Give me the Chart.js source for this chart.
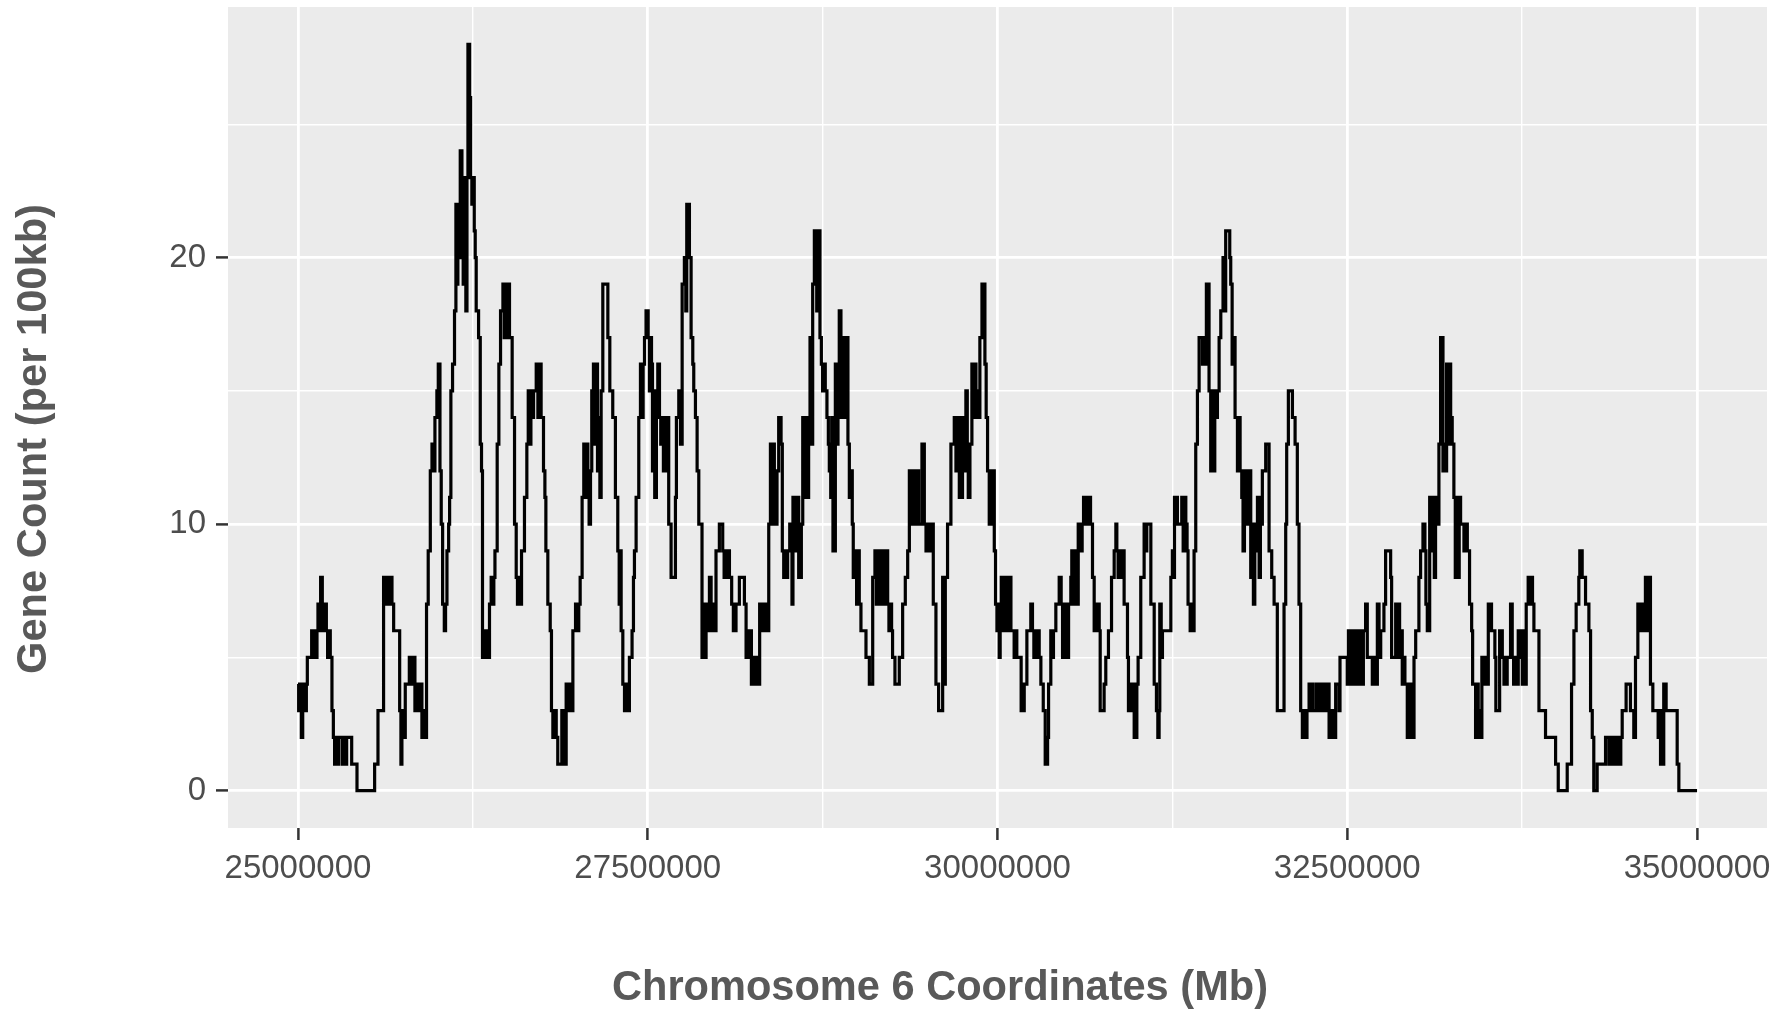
<!DOCTYPE html>
<html>
<head>
<meta charset="utf-8">
<script src="https://cdn.jsdelivr.net/npm/chart.js"></script>
<style>
  body { margin: 0; background: #ffffff; }
  canvas { display: block; }
</style>
</head>
<body>
<canvas id="geneChart" width="1788" height="1013"></canvas>
<script>
// Window start positions along chromosome 6 (kb) and gene count per 100kb window
const positionsKb = [
    25000,25005,25015,25024,25034,25043,25053,25060,25067,25098,25107,25117,
    25127,25136,25143,25153,25162,25174,25184,25193,25203,25212,25222,25231,
    25243,25253,25262,25272,25281,25291,25317,25324,25341,25348,25384,25422,
    25548,25572,25612,25624,25634,25646,25655,25672,25684,25727,25736,25743,
    25753,25767,25796,25805,25815,25836,25848,25865,25879,25886,25898,25908,
    25919,25931,25946,25958,25967,25979,25993,26003,26015,26024,26034,26046,
    26055,26065,26077,26084,26093,26105,26119,26129,26136,26143,26153,26160,
    26172,26181,26191,26200,26208,26215,26227,26234,26243,26250,26260,26267,
    26274,26291,26303,26312,26319,26329,26338,26348,26358,26369,26381,26391,
    26400,26408,26424,26436,26448,26465,26474,26484,26496,26503,26512,26531,
    26548,26560,26569,26579,26588,26598,26619,26636,26646,26655,26665,26674,
    26684,26703,26715,26724,26738,26755,26765,26772,26786,26803,26812,26822,
    26834,26846,26857,26886,26898,26917,26929,26941,26953,26965,26984,26996,
    27007,27017,27031,27043,27053,27062,27072,27081,27091,27100,27112,27122,
    27131,27141,27148,27158,27167,27179,27215,27229,27250,27269,27286,27296,
    27305,27310,27322,27334,27350,27360,27369,27388,27398,27405,27417,27436,
    27448,27457,27467,27477,27488,27503,27512,27522,27527,27534,27543,27550,
    27562,27572,27584,27593,27603,27612,27622,27631,27641,27650,27667,27698,
    27705,27722,27734,27746,27762,27772,27779,27798,27810,27822,27829,27841,
    27853,27865,27888,27898,27908,27917,27927,27936,27941,27953,27965,27977,
    27988,28012,28036,28046,28055,28065,28074,28084,28100,28112,28131,28155,
    28191,28203,28212,28222,28231,28241,28262,28272,28281,28291,28300,28312,
    28322,28331,28341,28350,28365,28377,28386,28396,28405,28415,28424,28436,
    28453,28462,28472,28481,28491,28500,28515,28531,28538,28560,28569,28579,
    28598,28608,28619,28631,28643,28650,28660,28669,28679,28691,28708,28717,
    28731,28741,28750,28760,28769,28781,28791,28798,28808,28815,28824,28841,
    28850,28860,28869,28881,28891,28900,28912,28922,28931,28941,28953,28962,
    28969,28984,28993,29003,29012,29024,29060,29084,29108,29124,29134,29143,
    29153,29167,29177,29186,29196,29205,29215,29224,29234,29243,29250,29267,
    29298,29322,29341,29358,29370,29393,29403,29412,29422,29436,29460,29477,
    29489,29500,29512,29524,29541,29560,29579,29608,29617,29627,29643,29667,
    29691,29703,29715,29727,29750,29762,29774,29784,29791,29803,29817,29827,
    29836,29846,29858,29867,29874,29889,29910,29919,29929,29941,29950,29960,
    29969,29977,29986,29996,30005,30012,30019,30027,30036,30046,30055,30065,
    30074,30084,30096,30119,30129,30138,30169,30191,30210,30238,30250,30260,
    30269,30279,30288,30298,30310,30327,30341,30358,30365,30381,30391,30400,
    30417,30441,30455,30465,30477,30488,30508,30524,30531,30541,30550,30560,
    30577,30596,30605,30615,30627,30636,30646,30655,30665,30679,30691,30710,
    30727,30734,30762,30774,30793,30815,30834,30846,30853,30862,30872,30881,
    30891,30905,30929,30936,30946,30955,30965,30977,30996,31005,31024,31048,
    31058,31067,31096,31120,31136,31146,31155,31160,31170,31179,31239,31250,
    31260,31265,31286,31317,31327,31336,31346,31355,31362,31377,31386,31396,
    31405,31417,31429,31441,31465,31474,31484,31493,31512,31524,31534,31543,
    31553,31560,31572,31584,31596,31612,31622,31631,31660,31667,31677,31686,
    31698,31715,31724,31734,31746,31755,31765,31774,31784,31793,31805,31810,
    31820,31829,31839,31848,31858,31870,31879,31893,31917,31941,31960,31977,
    32000,32048,32060,32067,32079,32108,32127,32143,32155,32167,32179,32193,
    32203,32212,32227,32239,32246,32255,32279,32289,32298,32308,32317,32327,
    32336,32346,32355,32370,32379,32389,32398,32408,32417,32441,32448,32500,
    32508,32517,32527,32536,32546,32555,32565,32574,32584,32596,32605,32615,
    32631,32643,32679,32689,32698,32715,32727,32739,32762,32774,32810,32817,
    32846,32855,32865,32874,32881,32893,32903,32912,32929,32939,32948,32958,
    32967,32977,32989,33012,33024,33041,33055,33062,33072,33089,33100,33110,
    33122,33131,33143,33155,33167,33184,33193,33203,33210,33220,33229,33239,
    33250,33262,33272,33281,33291,33300,33310,33334,33346,33358,33374,33389,
    33396,33417,33427,33436,33446,33455,33462,33481,33491,33500,33508,33531,
    33555,33562,33589,33608,33620,33643,33667,33679,33689,33698,33708,33722,
    33731,33741,33751,33760,33770,33779,33793,33805,33815,33824,33834,33870,
    33917,33989,34008,34072,34103,34120,34136,34155,34162,34179,34203,34227,
    34239,34251,34262,34286,34346,34370,34379,34389,34398,34408,34417,34427,
    34436,34446,34455,34465,34493,34524,34548,34560,34577,34596,34605,34615,
    34631,34641,34650,34667,34684,34722,34731,34739,34748,34755,34762,34779,
    34858,34870,35000
];
const geneCounts = [
    4,3,4,2,3,4,3,4,5,6,5,6,
    5,6,7,6,8,7,6,7,6,5,6,5,
    3,2,1,2,1,2,1,2,1,2,1,0,
    1,3,8,7,8,7,8,7,6,3,1,3,
    2,4,5,4,5,3,4,3,4,2,3,2,
    7,9,12,13,12,14,15,16,12,10,7,6,
    7,9,10,11,15,16,18,22,19,22,20,24,
    22,19,23,18,23,28,26,23,22,23,21,20,
    18,17,13,12,5,6,5,6,5,7,8,7,
    8,9,13,16,18,19,17,19,17,19,17,14,
    10,8,7,8,7,9,11,13,15,13,15,14,
    15,16,14,16,14,12,11,9,7,6,3,2,
    3,2,1,3,1,4,3,4,3,6,7,6,
    7,8,11,13,11,13,12,10,12,15,16,13,
    16,12,14,11,15,19,17,15,14,11,9,7,
    9,6,4,3,4,3,5,6,8,9,11,14,
    16,14,16,17,18,17,15,17,16,12,15,11,
    15,16,14,13,14,12,14,12,14,10,8,11,
    14,15,13,19,20,18,22,20,17,16,15,14,
    12,10,5,7,5,7,6,7,8,6,7,6,
    9,10,9,8,9,8,9,8,7,6,7,8,
    7,5,6,5,6,4,5,4,5,4,7,6,
    7,6,7,6,10,13,10,13,12,10,12,14,
    13,9,8,9,8,9,10,7,11,9,11,8,
    10,14,11,14,11,14,17,13,19,21,18,21,
    17,16,15,16,15,14,13,12,11,14,9,16,
    13,16,18,14,17,15,14,17,13,11,12,10,
    8,9,7,9,7,6,5,4,8,9,7,9,
    7,9,7,9,7,9,7,6,7,6,5,4,
    5,7,8,9,12,10,12,10,12,10,13,10,
    9,10,9,10,7,4,3,8,4,8,10,13,
    14,12,14,11,14,12,15,12,11,13,16,14,
    16,14,15,14,17,19,16,14,12,10,12,10,
    12,9,7,6,7,5,6,8,6,8,6,8,
    6,8,6,5,6,5,3,4,6,7,6,5,
    6,5,6,5,4,3,1,2,4,6,5,6,
    7,8,7,5,7,5,7,8,9,7,9,7,
    10,9,10,11,10,11,10,11,10,8,6,7,
    6,3,4,5,6,8,9,10,9,8,9,8,
    9,7,5,3,4,3,4,2,4,5,8,10,
    9,10,7,4,3,2,3,7,5,6,8,9,
    8,11,10,11,9,11,10,9,7,6,7,6,
    9,13,15,17,16,17,16,19,15,12,15,12,
    15,14,15,17,18,20,18,21,20,19,16,17,
    14,12,14,12,11,9,12,10,12,10,12,8,
    10,7,9,10,11,8,10,12,13,9,8,7,
    3,7,10,13,15,14,13,10,7,3,2,3,
    2,3,4,3,4,3,4,3,4,3,4,3,
    4,3,4,2,3,2,3,2,4,3,5,4,
    6,4,6,4,6,4,6,4,5,6,4,6,
    7,5,4,5,4,7,5,6,7,9,8,5,
    7,5,7,5,6,4,5,4,2,4,2,4,
    2,5,6,8,9,10,9,7,6,11,9,11,
    8,11,10,13,17,12,13,12,16,13,16,14,
    13,11,8,11,8,11,10,9,10,9,7,6,
    4,2,4,2,3,2,5,4,5,4,7,6,
    5,3,6,5,4,5,7,5,4,5,4,6,
    5,6,4,6,4,7,8,7,8,7,6,3,
    2,1,0,1,4,6,7,8,9,8,7,6,
    3,2,0,1,2,1,2,1,2,1,2,1,
    2,1,2,3,4,3,2,5,7,6,7,6,
    8,6,8,4,3,2,3,1,3,1,4,3,
    1,0,0
];

// Axis ticks: majors are labelled, the ones in between are minor grid lines
const xTickValues = [25000000, 26250000, 27500000, 28750000, 30000000, 31250000, 32500000, 33750000, 35000000];
const xTickLabels = ['25000000', '', '27500000', '', '30000000', '', '32500000', '', '35000000'];
const yTickValues = [0, 5, 10, 15, 20, 25];
const yTickLabels = ['0', '', '10', '', '20', ''];

const xTitle = 'Chromosome 6 Coordinates (Mb)';
const yTitle = 'Gene Count (per 100kb)';

const titleFont = "bold 42px 'Liberation Sans Narrow', 'Liberation Sans', sans-serif";
const titleColor = '#595959';

// grey ggplot panel behind the grid
const panelBackground = {
    id: 'panelBackground',
    beforeDraw(chart) {
        const { ctx, chartArea: a } = chart;
        ctx.save();
        ctx.fillStyle = '#EBEBEB';
        ctx.fillRect(a.left, a.top, a.right - a.left, a.bottom - a.top);
        ctx.restore();
    }
};

// axis titles drawn by hand, stretched to the width they take in the original
function drawStretched(ctx, text, width) {
    const w = ctx.measureText(text).width;
    ctx.scale(width / w, 1);
    ctx.fillText(text, 0, 0);
}
const axisTitles = {
    id: 'axisTitles',
    afterDraw(chart) {
        const ctx = chart.ctx;
        ctx.save();
        ctx.font = titleFont;
        ctx.fillStyle = titleColor;
        ctx.textAlign = 'center';
        ctx.textBaseline = 'middle';
        ctx.translate(940, 988);
        drawStretched(ctx, xTitle, 656);
        ctx.restore();

        ctx.save();
        ctx.font = titleFont;
        ctx.fillStyle = titleColor;
        ctx.textAlign = 'center';
        ctx.textBaseline = 'middle';
        ctx.translate(34, 439);
        ctx.rotate(-Math.PI / 2);
        drawStretched(ctx, yTitle, 470);
        ctx.restore();
    }
};

const isMajorX = v => xTickLabels[xTickValues.indexOf(v)] !== '';
const isMajorY = v => yTickLabels[yTickValues.indexOf(v)] !== '';

const tickFont = { family: "'Liberation Sans', Arial, sans-serif", size: 33 };

new Chart(document.getElementById('geneChart'), {
    type: 'line',
    data: {
        datasets: [{
            data: positionsKb.map((kb, i) => ({ x: kb * 1000, y: geneCounts[i] })),
            borderColor: '#000000',
            borderWidth: 3.2,
            pointRadius: 0,
            stepped: true,
            fill: false
        }]
    },
    options: {
        responsive: false,
        animation: false,
        layout: { padding: { top: 7, right: 21, left: 0, bottom: 0 } },
        plugins: { legend: { display: false }, tooltip: { enabled: false } },
        scales: {
            x: {
                type: 'linear',
                min: 24500000,
                max: 35500000,
                afterBuildTicks: scale => { scale.ticks = xTickValues.map(v => ({ value: v })); },
                afterFit: scale => { scale.height = 185; scale.paddingLeft = 0; scale.paddingRight = 0; },
                border: { display: false },
                grid: {
                    color: '#FFFFFF',
                    lineWidth: c => isMajorX(c.tick.value) ? 2.8 : 1.4,
                    tickColor: c => isMajorX(c.tick.value) ? '#333333' : 'rgba(0,0,0,0)',
                    tickWidth: 2.5,
                    tickLength: 12
                },
                ticks: {
                    autoSkip: false,
                    maxRotation: 0,
                    padding: 9,
                    color: '#4D4D4D',
                    font: tickFont,
                    callback: v => xTickLabels[xTickValues.indexOf(v)]
                }
            },
            y: {
                min: -1.4,
                max: 29.4,
                afterBuildTicks: scale => { scale.ticks = yTickValues.map(v => ({ value: v })); },
                afterFit: scale => { scale.width = 228; scale.paddingTop = 0; scale.paddingBottom = 0; },
                border: { display: false },
                grid: {
                    color: '#FFFFFF',
                    lineWidth: c => isMajorY(c.tick.value) ? 2.8 : 1.4,
                    tickColor: c => isMajorY(c.tick.value) ? '#333333' : 'rgba(0,0,0,0)',
                    tickWidth: 2.5,
                    tickLength: 12
                },
                ticks: {
                    autoSkip: false,
                    padding: 10,
                    color: '#4D4D4D',
                    font: tickFont,
                    callback: v => yTickLabels[yTickValues.indexOf(v)]
                }
            }
        }
    },
    plugins: [panelBackground, axisTitles]
});
</script>
</body>
</html>
